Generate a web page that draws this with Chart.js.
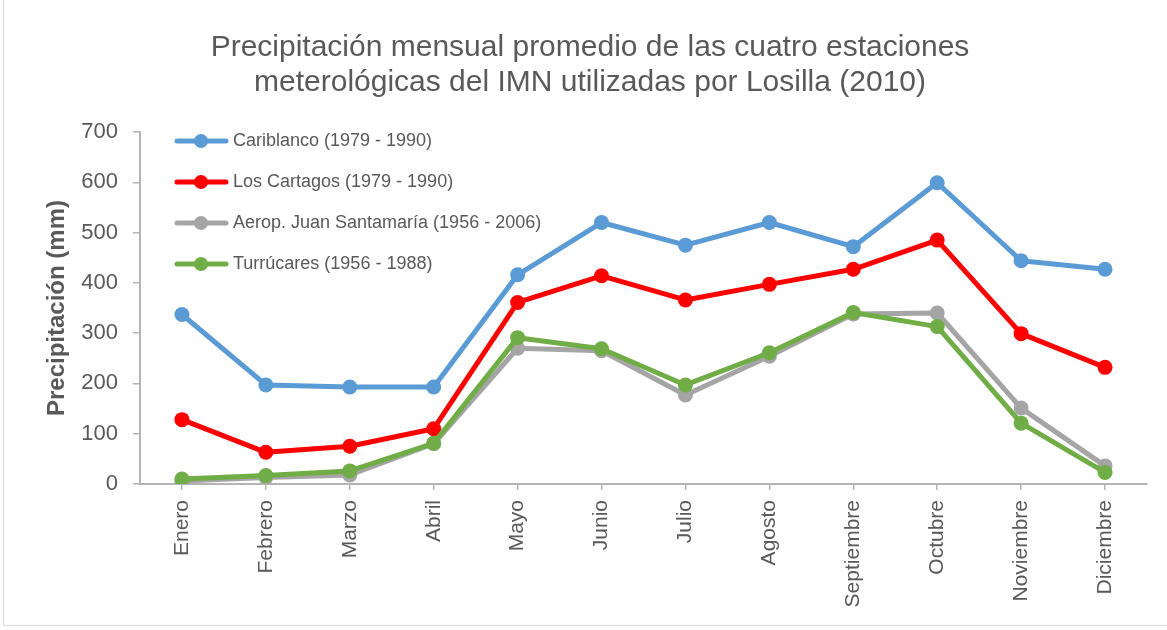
<!DOCTYPE html>
<html>
<head>
<meta charset="utf-8">
<script src="https://cdn.jsdelivr.net/npm/chart.js@4/dist/chart.umd.min.js"></script>
<style>
  html, body { margin: 0; padding: 0; background: #fff; }
  #wrap { position: relative; width: 1167px; height: 630px; overflow: hidden; }
  #marco { position: absolute; left: 3px; top: -2px; width: 1170px; height: 627px;
           border-left: 1px solid #d9d9d9; border-bottom: 1px solid #d9d9d9; pointer-events: none; }
</style>
</head>
<body>
<div id="wrap">
  <canvas id="grafico" width="1167" height="630"></canvas>
  <div id="marco"></div>
</div>
<script>
const meses = ['Enero', 'Febrero', 'Marzo', 'Abril', 'Mayo', 'Junio', 'Julio',
  'Agosto', 'Septiembre', 'Octubre', 'Noviembre', 'Diciembre'];

const cariblanco = [337, 197, 193, 193, 416, 520, 475, 520, 472, 599, 444, 427];
const cartagos   = [128, 63, 75, 110, 361, 414, 366, 397, 427, 485, 299, 232];
const aeropuerto = [6, 13, 18, 80, 270, 265, 177, 254, 338, 340, 151, 36];
const turrucares = [10, 17, 26, 81, 291, 269, 197, 261, 341, 313, 121, 23];

const titulo = [
  'Precipitación mensual promedio de las cuatro estaciones',
  'meterológicas del IMN utilizadas por Losilla (2010)'
];

const GRIS_TEXTO = '#595959';
const GRIS_EJE = '#b4b4b4';
const FUENTE = "'Liberation Sans', Arial, sans-serif";

function serie(label, data, color, order) {
  return {
    label,
    data,
    borderColor: color,
    backgroundColor: color,
    borderWidth: 5,
    pointRadius: 7.5,
    pointHoverRadius: 7.5,
    pointBorderWidth: 0,
    pointBackgroundColor: color,
    borderJoinStyle: 'round',
    borderCapStyle: 'round',
    tension: 0,
    order
  };
}

// titulo y leyenda dibujados a mano (la leyenda va dentro del area del grafico)
const tituloYLeyenda = {
  id: 'tituloYLeyenda',
  afterDraw(chart) {
    const ctx = chart.ctx;
    ctx.save();
    ctx.fillStyle = GRIS_TEXTO;
    ctx.font = '30px ' + FUENTE;
    ctx.textAlign = 'center';
    ctx.textBaseline = 'middle';
    ctx.fillText(titulo[0], 590, 48);
    ctx.fillText(titulo[1], 590, 83);

    const filas = [141, 182, 223, 264];
    chart.data.datasets.forEach((ds, i) => {
      const y = filas[i];
      ctx.strokeStyle = ds.borderColor;
      ctx.lineWidth = 5;
      ctx.lineCap = 'round';
      ctx.beginPath();
      ctx.moveTo(177, y);
      ctx.lineTo(226, y);
      ctx.stroke();
      ctx.fillStyle = ds.borderColor;
      ctx.beginPath();
      ctx.arc(201, y, 7, 0, Math.PI * 2);
      ctx.fill();
      ctx.fillStyle = GRIS_TEXTO;
      ctx.font = '18px ' + FUENTE;
      ctx.textAlign = 'left';
      ctx.fillText(ds.label, 233, y);
    });
    ctx.restore();
  }
};

new Chart(document.getElementById('grafico'), {
  type: 'line',
  data: {
    labels: meses,
    datasets: [
      serie('Cariblanco (1979 - 1990)', cariblanco, '#5b9bd5', 4),
      serie('Los Cartagos (1979 - 1990)', cartagos, '#ff0000', 3),
      serie('Aerop. Juan Santamaría (1956 - 2006)', aeropuerto, '#a5a5a5', 2),
      serie('Turrúcares (1956 - 1988)', turrucares, '#70ad47', 1)
    ]
  },
  options: {
    responsive: false,
    animation: false,
    layout: { padding: { top: 132, left: 20, right: 20, bottom: 0 } },
    plugins: {
      legend: { display: false },
      title: { display: false },
      tooltip: { enabled: false }
    },
    scales: {
      x: {
        offset: true,
        afterFit: s => { s.height = 146; },
        grid: { offset: false, drawOnChartArea: false, drawTicks: true, tickLength: 6, color: GRIS_EJE, lineWidth: 1.5 },
        border: { color: GRIS_EJE, width: 2 },
        ticks: {
          color: GRIS_TEXTO,
          font: { family: FUENTE, size: 21 },
          minRotation: 90,
          maxRotation: 90,
          padding: 10,
          autoSkip: false
        }
      },
      y: {
        min: 0,
        max: 700,
        afterFit: s => { s.width = 120; },
        grid: { drawOnChartArea: false, drawTicks: true, tickLength: 7, color: GRIS_EJE, lineWidth: 1.5 },
        border: { color: GRIS_EJE, width: 2 },
        ticks: {
          stepSize: 100,
          color: GRIS_TEXTO,
          font: { family: FUENTE, size: 22 },
          padding: 15
        },
        title: {
          display: true,
          text: 'Precipitación (mm)',
          color: GRIS_TEXTO,
          font: { family: FUENTE, size: 24, weight: 'bold' },
          padding: { top: 23, bottom: 0 }
        }
      }
    }
  },
  plugins: [tituloYLeyenda]
});
</script>
</body>
</html>
